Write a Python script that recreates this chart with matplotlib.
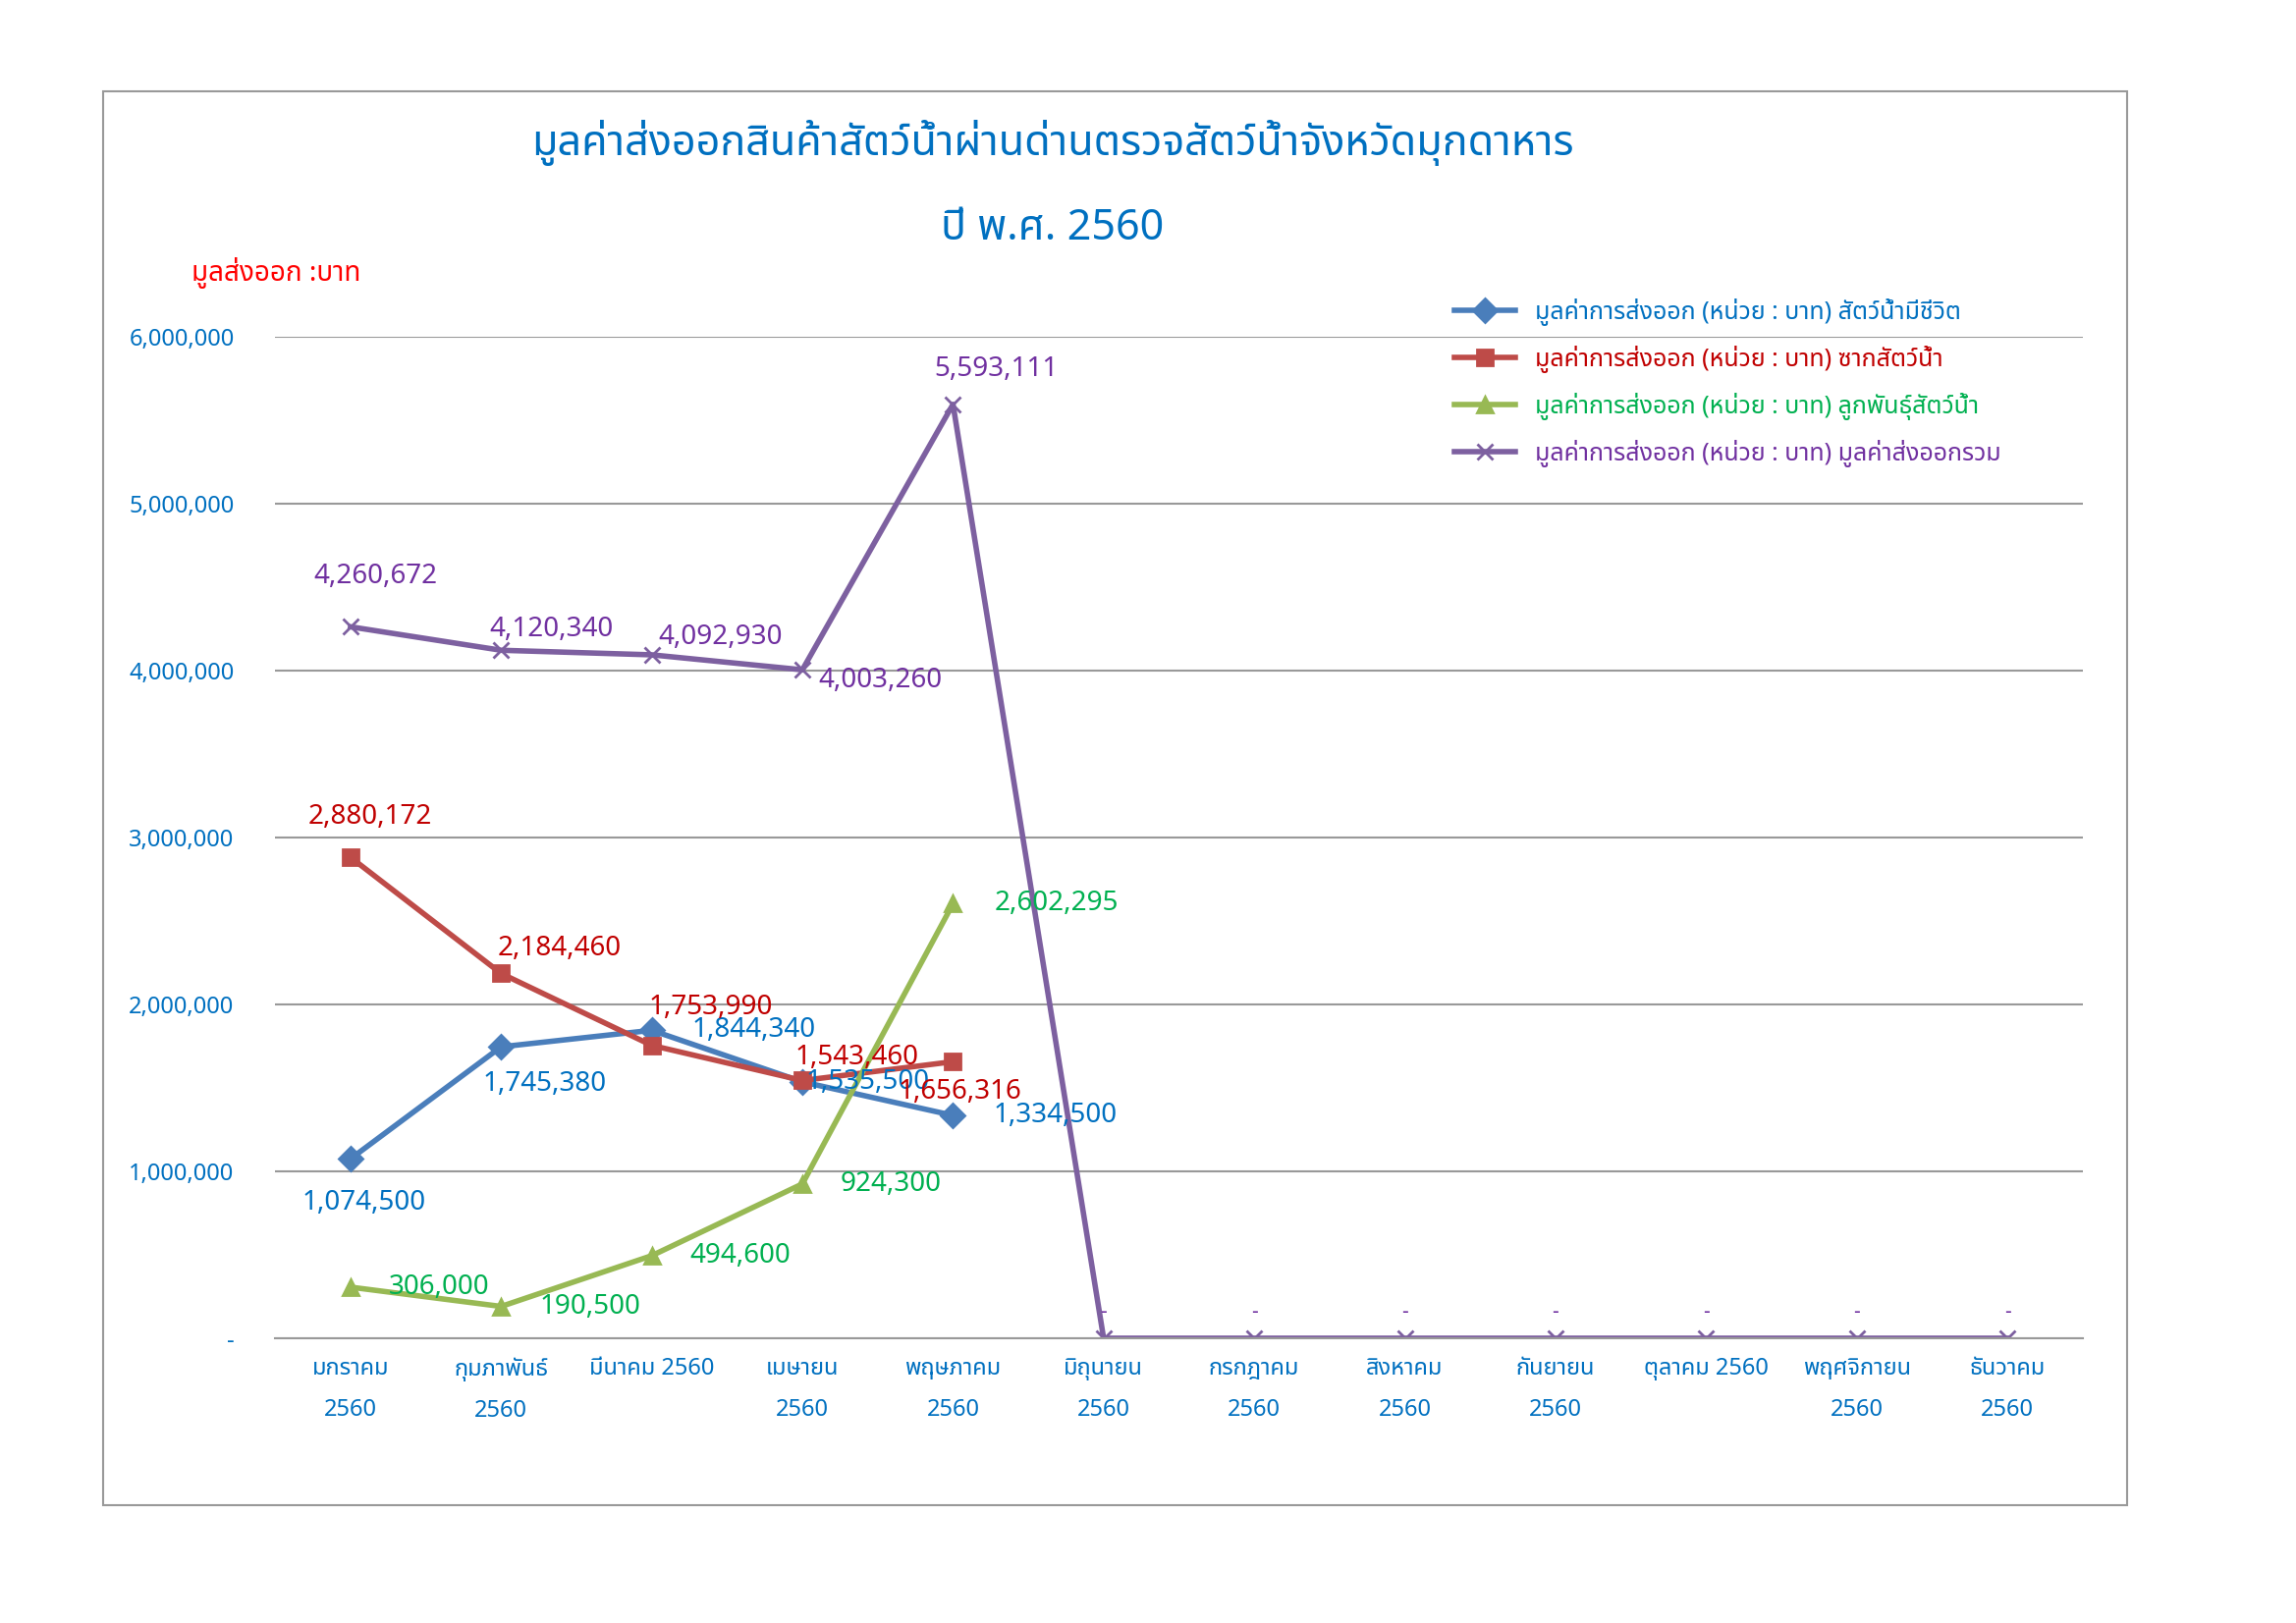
import matplotlib
matplotlib.use("Agg")
import matplotlib.pyplot as plt
from matplotlib.patches import Rectangle
from matplotlib.ticker import FuncFormatter

plt.rcParams["font.family"] = ["Noto Sans Thai", "Noto Sans Thai UI", "Loma", "Garuda", "Tlwg Typist", "DejaVu Sans"]

months = ["มกราคม\n2560", "กุมภาพันธ์\n2560", "มีนาคม 2560\n", "เมษายน\n2560", "พฤษภาคม\n2560",
          "มิถุนายน\n2560", "กรกฎาคม\n2560", "สิงหาคม\n2560", "กันยายน\n2560", "ตุลาคม 2560\n",
          "พฤศจิกายน\n2560", "ธันวาคม\n2560"]
live = [1074500, 1745380, 1844340, 1535500, 1334500]
carcass = [2880172, 2184460, 1753990, 1543460, 1656316]
fry = [306000, 190500, 494600, 924300, 2602295]
total = [4260672, 4120340, 4092930, 4003260, 5593111, 0, 0, 0, 0, 0, 0, 0]

series = [
    ("มูลค่าการส่งออก (หน่วย : บาท) สัตว์น้ำมีชีวิต", live, "#4a7ebb", "#0070c0", "D",
     [(10, -32), (32, -27), (75, 0), (48, 0), (75, 0)]),
    ("มูลค่าการส่งออก (หน่วย : บาท) ซากสัตว์น้ำ", carcass, "#be4b48", "#c00000", "s",
     [(14, 30), (43, 18), (43, 28), (40, 17), (5, -22)]),
    ("มูลค่าการส่งออก (หน่วย : บาท) ลูกพันธุ์สัตว์น้ำ", fry, "#98b954", "#00b050", "^",
     [(65, 0), (65, 0), (65, 0), (65, 0), (76, 0)]),
    ("มูลค่าการส่งออก (หน่วย : บาท) มูลค่าส่งออกรวม", total, "#7d60a0", "#7030a0", "x",
     [(18, 37), (37, 15), (50, 13), (57, -8), (32, 26)]),
]

fig = plt.figure(figsize=(23.38, 16.53), dpi=100)
fig.patches.append(Rectangle((70 / 1560, 1 - 1020 / 1100), 1375 / 1560, 958 / 1100,
                             transform=fig.transFigure, fill=False, edgecolor="#999999", lw=1.5))
ax = fig.add_axes([187 / 1560, 1 - 907 / 1100, 1228 / 1560, 679 / 1100])

x = list(range(len(months)))
for name, vals, col, tcol, mk, offs in series:
    ax.plot(x[:len(vals)], vals, color=col, lw=4, marker=mk, markersize=12,
            markeredgewidth=2, label=name)
    for i, v in enumerate(vals):
        if v == 0:
            ax.annotate("-", (i, v), xytext=(0, 15), textcoords="offset points",
                        ha="center", color=tcol, fontsize=15)
        else:
            ax.annotate(f"{v:,}", (i, v), xytext=offs[i], textcoords="offset points",
                        ha="center", va="center", color=tcol, fontsize=20)

ax.set_xlim(-0.5, 11.5)
ax.set_ylim(0, 6000000)
ax.set_yticks(range(0, 6000001, 1000000))
ax.yaxis.set_major_formatter(FuncFormatter(lambda v, p: "-" if v == 0 else f"{int(v):,}"))
ax.set_xticks(x)
ax.set_xticklabels(months, color="#0070c0", fontsize=17, linespacing=2.0, va="top")
ax.tick_params(axis="y", colors="#0070c0", labelsize=17, length=0, pad=30)
ax.tick_params(axis="x", length=0, pad=14)
ax.grid(axis="y", color="#999999", lw=1.5)
for s in ["top", "right", "left"]:
    ax.spines[s].set_visible(False)
ax.spines["bottom"].set_color("#999999")
ax.spines["bottom"].set_linewidth(1.5)
ax.set_axisbelow(True)

leg = ax.legend(loc="upper left", bbox_to_anchor=(0.64, 1.06), frameon=False, fontsize=18,
                handlelength=2.5, labelspacing=0.8)
for t, (_, _, _, tcol, _, _) in zip(leg.get_texts(), series):
    t.set_color(tcol)

fig.text(715 / 1560, 1 - 97 / 1100, "มูลค่าส่งออกสินค้าสัตว์น้ำผ่านด่านตรวจสัตว์น้ำจังหวัดมุกดาหาร",
         ha="center", va="center", color="#0070c0", fontsize=31, fontweight="bold")
fig.text(715 / 1560, 1 - 155 / 1100, "ปี พ.ศ. 2560", ha="center", va="center",
         color="#0070c0", fontsize=31, fontweight="bold")
fig.text(130 / 1560, 1 - 185 / 1100, "มูลส่งออก :บาท", ha="left", va="center",
         color="#ff0000", fontsize=20)

fig.savefig("out.png", dpi=100)
